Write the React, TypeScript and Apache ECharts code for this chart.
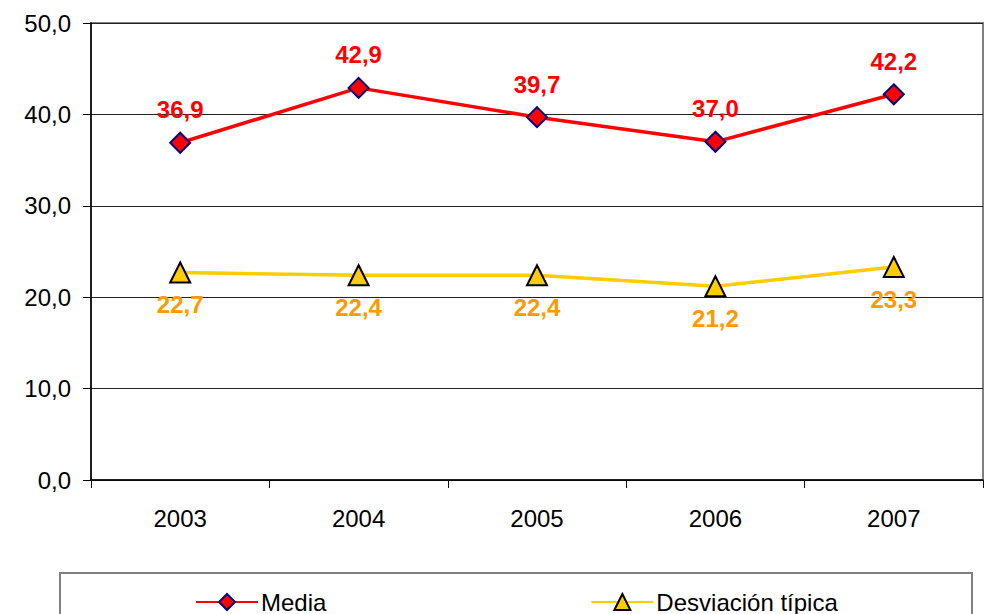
import React, { useEffect, useRef } from "react";
import * as echarts from "echarts";

const years = ["2003", "2004", "2005", "2006", "2007"];
const media = [36.9, 42.9, 39.7, 37.0, 42.2];
const desviacion = [22.7, 22.4, 22.4, 21.2, 23.3];
const yTicks = { min: 0, max: 50, interval: 10 };

const FONT = "'Liberation Sans', Arial, sans-serif";
const fmt = (v: number) => v.toFixed(1).replace(".", ",");

export default function App() {
  const ref = useRef<HTMLDivElement>(null);
  useEffect(() => {
    if (!ref.current) return;
    const chart = echarts.init(ref.current, undefined, { renderer: "svg" });
    chart.setOption({
      animation: false,
      backgroundColor: "#ffffff",
      textStyle: { fontFamily: FONT },
      grid: {
        left: 91,
        right: 5,
        top: 23,
        bottom: 134,
        show: true,
        borderColor: "#808080",
        borderWidth: 2,
        backgroundColor: "transparent",
      },
      xAxis: {
        type: "category",
        data: years,
        boundaryGap: true,
        axisLine: { lineStyle: { color: "#000000", width: 1.5 } },
        axisTick: { show: true, length: 8, alignWithLabel: false, lineStyle: { color: "#000000" } },
        axisLabel: { color: "#000000", fontSize: 24, fontFamily: FONT, margin: 26 },
        splitLine: { show: false },
      },
      yAxis: {
        type: "value",
        min: yTicks.min,
        max: yTicks.max,
        interval: yTicks.interval,
        axisLine: { show: true, lineStyle: { color: "#000000", width: 1.5 } },
        axisTick: { show: true, length: 8, lineStyle: { color: "#000000" } },
        axisLabel: {
          color: "#000000",
          fontSize: 24,
          fontFamily: FONT,
          margin: 20,
          formatter: (v: number) => fmt(v),
        },
        splitLine: { show: true, lineStyle: { color: "#222222", width: 1 } },
      },
      legend: {
        show: true,
        left: 190,
        top: 585,
        itemWidth: 62,
        itemHeight: 20,
        itemGap: 264,
        textStyle: { color: "#000000", fontSize: 24, fontFamily: FONT, padding: [0, 0, 0, -2] },
        data: ["Media", "Desviación típica"],
      },
      graphic: [
        {
          type: "rect",
          shape: { x: 60, y: 573, width: 912, height: 80 },
          style: { fill: "transparent", stroke: "#808080", lineWidth: 2 },
          z: -1,
        },
      ],
      series: [
        {
          name: "Media",
          type: "line",
          data: media,
          symbol: "diamond",
          symbolSize: 20,
          lineStyle: { color: "#FF0000", width: 3.5 },
          itemStyle: { color: "#FF0000", borderColor: "#000080", borderWidth: 2 },
          label: {
            show: true,
            position: "top",
            distance: 10,
            color: "#FF0000",
            fontSize: 24,
            fontWeight: "bold",
            fontFamily: FONT,
            formatter: (p: any) => fmt(p.value),
          },
          z: 3,
        },
        {
          name: "Desviación típica",
          type: "line",
          data: desviacion,
          symbol: "triangle",
          symbolSize: 20,
          lineStyle: { color: "#FFCC00", width: 3.5 },
          itemStyle: { color: "#FFCC00", borderColor: "#000000", borderWidth: 2 },
          label: {
            show: true,
            position: "bottom",
            distance: 9,
            color: "#FF9900",
            fontSize: 24,
            fontWeight: "bold",
            fontFamily: FONT,
            formatter: (p: any) => fmt(p.value),
          },
          z: 3,
        },
      ],
    });
    return () => chart.dispose();
  }, []);
  return (
    <div
      ref={ref}
      style={{ position: "absolute", left: 0, top: 0, width: 988, height: 614 }}
    />
  );
}
